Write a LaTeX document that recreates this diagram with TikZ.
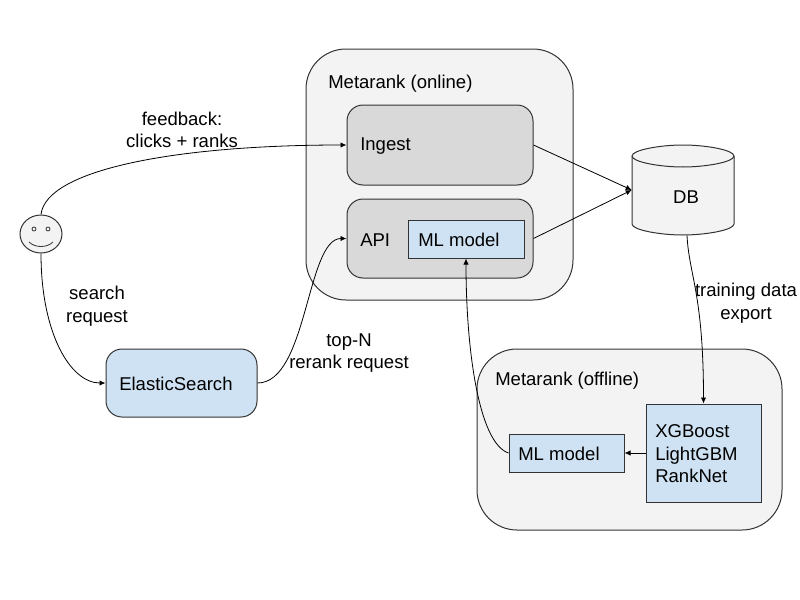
\documentclass[tikz,border=0pt]{standalone}
\usepackage{fontspec}
\setmainfont{Liberation Sans}
\usetikzlibrary{arrows.meta,shapes.geometric}
\definecolor{panelgrey}{HTML}{F3F3F3}
\definecolor{innergrey}{HTML}{D9D9D9}
\definecolor{lightblue}{HTML}{CFE2F3}
\definecolor{edgegrey}{HTML}{333333}
\def\dbbody{(632,156) -- (632,224) .. controls (632,230) and (660,235) .. (683,235)
    .. controls (706,235) and (734,230) .. (734,224) -- (734,156)
    .. controls (734,150) and (706,145) .. (683,145)
    .. controls (660,145) and (632,150) .. (632,156) -- cycle}
\def\dbrim{(632,156) .. controls (632,162) and (660,167) .. (683,167)
    .. controls (706,167) and (734,162) .. (734,156)}
\tikzset{
    sized/.style 2 args={minimum width=#1*0.75pt,minimum height=#2*0.75pt,inner sep=0pt},
    panel/.style={draw=edgegrey,fill=panelgrey,line width=0.75pt,rounded corners=30pt},
    grey box/.style={draw=edgegrey,fill=innergrey,line width=0.75pt,rounded corners=12pt},
    blue box/.style={draw=edgegrey,fill=lightblue,line width=0.75pt},
    txt/.style={align=center,inner sep=0pt},
    txtleft/.style={align=left,anchor=west,inner sep=0pt},
    link/.style={-{Latex[length=4.5pt,width=4pt]},line width=0.6pt,black}
}
\begin{document}
\begin{tikzpicture}[x=0.75pt,y=-0.75pt,font=\fontsize{13.9}{16.9}\selectfont]
    \useasboundingbox (0,0) rectangle (800,600);

    % the two big panels
    \node[panel,sized={267}{251}] (online) at (439.5,174.5) {};
    \node[panel,sized={305}{181}] (offline) at (629.5,439.5) {};

    % online part
    \node[grey box,sized={186}{80}] (ingest) at (440,145) {};
    \node[grey box,sized={186}{79}] (api) at (440,238.5) {};
    \node[blue box,sized={116}{38}] (mlonline) at (466,239) {};
    \node[txtleft] (onlinetext) at (328,83.5) {Metarank (online)};
    \node[txtleft] (ingesttext) at (360,146.5) {Ingest};
    \node[txtleft] (apitext) at (360,240) {API};
    \node[txtleft] (mlonlinetext) at (418,240) {ML model};

    % offline part
    \node[blue box,sized={115}{38}] (mloffline) at (566.5,453) {};
    \node[blue box,sized={115}{98}] (trainer) at (703.5,453) {};
    \node[txtleft] (offlinetext) at (495,380.5) {Metarank (offline)};
    \node[txtleft] (mlofflinetext) at (518,454) {ML model};
    \node[txtleft] (trainertext) at (655,454) {XGBoost\\LightGBM\\RankNet};

    % storage, search, user
    \draw[draw=edgegrey,fill=panelgrey,line width=0.75pt] \dbbody;
    \draw[edgegrey,line width=0.75pt] \dbrim;
    \node[sized={102}{90}] (db) at (683,190) {};
    \node[txt] (dbtext) at (686,197) {DB};
    \node[grey box,fill=lightblue,sized={151}{68}] (elastic) at (181.5,383) {};
    \node[txtleft] (elastictext) at (119,384) {ElasticSearch};
    \node[ellipse,draw=edgegrey,fill=panelgrey,line width=0.75pt,sized={42}{38}] (face) at (41,234) {};
    \draw[edgegrey,line width=0.6pt] (34,229) circle (2);
    \draw[edgegrey,line width=0.6pt] (48,229) circle (2);
    \draw[edgegrey,line width=0.6pt] (29,242) .. controls (35,248) and (47,248) .. (53,242);

    % connectors
    \draw[link] (face.north) .. controls +(5,-45) and +(-170,0) .. (ingest.west);
    \draw[link] (face.south) .. controls +(0,80) and +(-35,0) .. (elastic.west);
    \draw[link] (elastic.east) .. controls +(50,0) and +(-40,0) .. (api.west);
    \draw[link] (ingest.east) -- (db.west);
    \draw[link] (api.east) -- (db.west);
    \draw[link] ([xshift=3pt]db.south) .. controls +(2,40) and +(0,-110) .. (trainer.north);
    \draw[link] (trainer.west) -- (mloffline.east);
    \draw[link] (mloffline.west) .. controls +(-30,-10) and +(0,90) .. (mlonline.south);

    % connector labels
    \node[txt] (feedbacktext) at (182,130) {feedback:\\clicks + ranks};
    \node[txt] (searchtext) at (97,306) {search\\request};
    \node[txt] (reranktext) at (349,353) {top-N\\rerank request};
    \node[txt] (exporttext) at (746,303) {training data\\export};
\end{tikzpicture}
\end{document}
